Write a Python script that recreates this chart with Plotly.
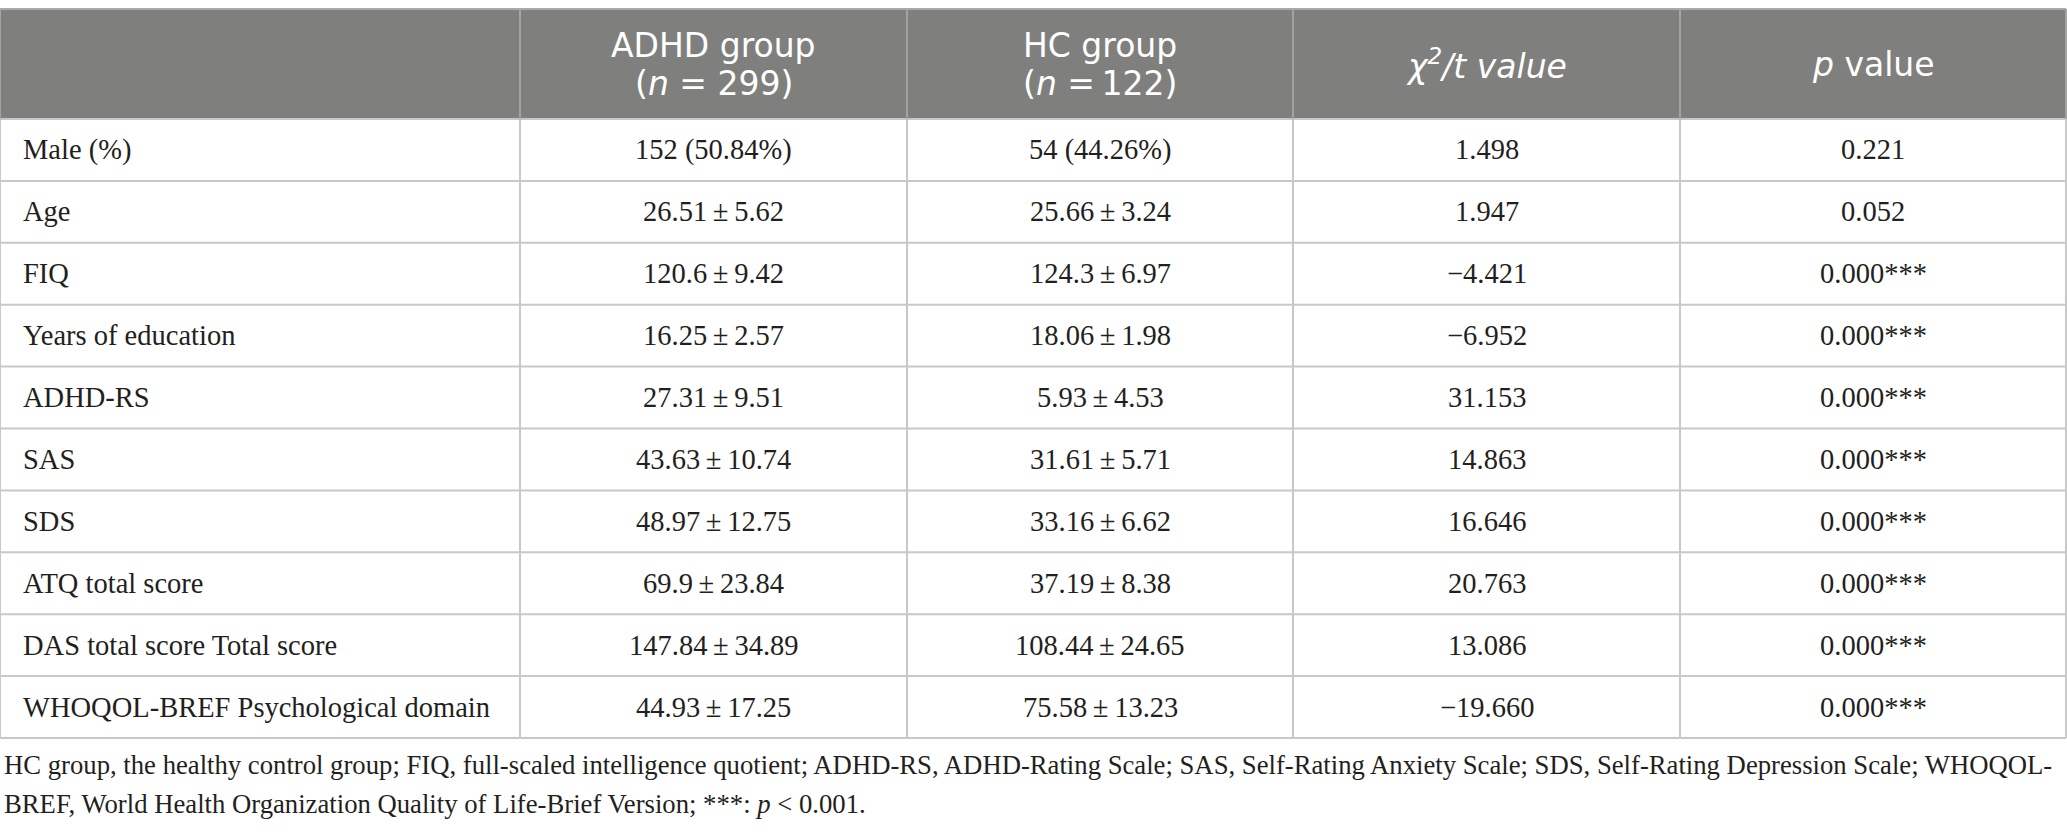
import plotly.graph_objects as go

# Table content
variables = [
    "Male (%)", "Age", "FIQ", "Years of education", "ADHD-RS", "SAS", "SDS",
    "ATQ total score", "DAS total score Total score", "WHOQOL-BREF Psychological domain",
]
adhd_group = [
    "152 (50.84%)", "26.51 ± 5.62", "120.6 ± 9.42", "16.25 ± 2.57", "27.31 ± 9.51",
    "43.63 ± 10.74", "48.97 ± 12.75", "69.9 ± 23.84", "147.84 ± 34.89", "44.93 ± 17.25",
]
hc_group = [
    "54 (44.26%)", "25.66 ± 3.24", "124.3 ± 6.97", "18.06 ± 1.98", "5.93 ± 4.53",
    "31.61 ± 5.71", "33.16 ± 6.62", "37.19 ± 8.38", "108.44 ± 24.65", "75.58 ± 13.23",
]
stat_values = [
    "1.498", "1.947", "−4.421", "−6.952", "31.153",
    "14.863", "16.646", "20.763", "13.086", "−19.660",
]
p_values = [
    "0.221", "0.052", "0.000***", "0.000***", "0.000***",
    "0.000***", "0.000***", "0.000***", "0.000***", "0.000***",
]
# header, one list per text line ("" = no second line)
header_top = ["", "ADHD group", "HC group", "<i>χ<sup>2</sup>/t value</i>", "<i>p</i> value"]
header_bottom = ["", "(<i>n</i> = 299)", "(<i>n</i> =\u2009122)", "", ""]
footnote_lines = [
    "HC group, the healthy control group; FIQ, full-scaled intelligence quotient; ADHD-RS, "
    "ADHD-Rating Scale; SAS, Self-Rating Anxiety Scale; SDS, Self-Rating Depression Scale; WHOQOL-",
    "BREF, World Health Organization Quality of Life-Brief Version; ***: <i>p</i> < 0.001.",
]

W, H = 2067, 834
col_edges = [0, 520, 907, 1293, 1680, 2066]
table_top, header_bottom_y, row_h = 9, 119, 61.9
n_rows = len(variables)
row_edges = [header_bottom_y + i * row_h for i in range(n_rows + 1)]

body_font = dict(family="Liberation Serif", size=28.5, color="#231f20")
head_font = dict(family="DejaVu Sans", size=33, color="white")
grid = "#c8c8c8"

fig = go.Figure()
shapes = []
annotations = []

# header band
shapes.append(dict(type="rect", x0=col_edges[0], x1=col_edges[-1], y0=table_top, y1=header_bottom_y,
                   fillcolor="#7f807e", line=dict(width=0), layer="below"))
shapes.append(dict(type="line", x0=col_edges[0], x1=col_edges[-1], y0=table_top, y1=table_top,
                   line=dict(color="#a9a9a9", width=2)))

# horizontal rules
for y in row_edges:
    shapes.append(dict(type="line", x0=col_edges[0], x1=col_edges[-1], y0=y, y1=y,
                       line=dict(color=grid, width=2)))

# vertical rules (lighter inside the header)
for x in col_edges:
    shapes.append(dict(type="line", x0=x, x1=x, y0=table_top, y1=header_bottom_y,
                       line=dict(color="#a3a3a3", width=2)))
    shapes.append(dict(type="line", x0=x, x1=x, y0=header_bottom_y, y1=row_edges[-1],
                       line=dict(color=grid, width=2)))

# header text
for j in range(len(col_edges) - 1):
    xc = (col_edges[j] + col_edges[j + 1]) / 2
    if header_bottom[j]:
        lines = [(header_top[j], 45), (header_bottom[j], 83)]
    else:
        lines = [(header_top[j], 64)]
    for txt, yc in lines:
        if txt:
            annotations.append(dict(text=txt, x=xc, y=yc, xref="x", yref="y", showarrow=False,
                                    xanchor="center", yanchor="middle", font=head_font))

# body text
columns = [variables, adhd_group, hc_group, stat_values, p_values]
for j, col in enumerate(columns):
    for i, val in enumerate(col):
        yc = (row_edges[i] + row_edges[i + 1]) / 2
        txt = val.replace(" ± ", "\u2009±\u2009")
        if j == 0:
            annotations.append(dict(text=txt, x=col_edges[0] + 21, y=yc, xref="x", yref="y",
                                    showarrow=False, xanchor="left", yanchor="middle", font=body_font))
        else:
            xc = (col_edges[j] + col_edges[j + 1]) / 2
            annotations.append(dict(text=txt, x=xc, y=yc, xref="x", yref="y",
                                    showarrow=False, xanchor="center", yanchor="middle", font=body_font))

# footnote
for i, line in enumerate(footnote_lines):
    annotations.append(dict(text=line, x=2, y=765 + 39 * i, xref="x", yref="y", showarrow=False,
                            xanchor="left", yanchor="middle",
                            font=dict(family="Liberation Serif", size=26.7, color="#231f20")))

fig.update_layout(
    width=W, height=H,
    margin=dict(l=0, r=0, t=0, b=0),
    paper_bgcolor="white", plot_bgcolor="white",
    xaxis=dict(range=[0, W], visible=False, fixedrange=True),
    yaxis=dict(range=[H, 0], visible=False, fixedrange=True),
    shapes=shapes, annotations=annotations,
    showlegend=False,
)
# drop the browser's default page margin so the figure sits at the window corner
fig.write_html("out.html", post_script="document.body.style.margin='0';",
               config={"displayModeBar": False})
